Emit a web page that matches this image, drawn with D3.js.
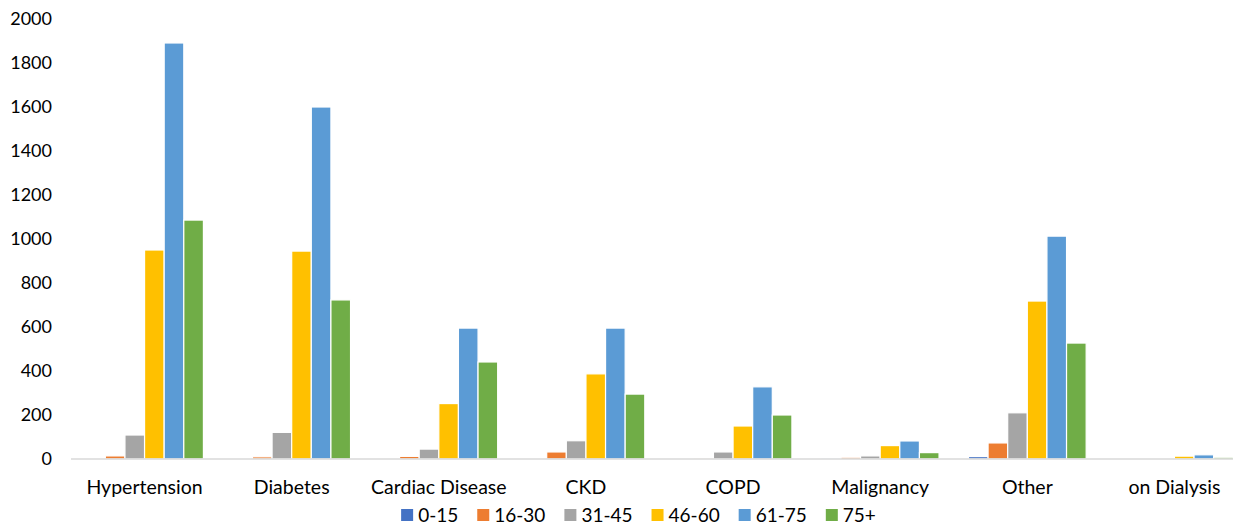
<!DOCTYPE html>
<html>
<head>
<meta charset="utf-8">
<script src="https://cdn.jsdelivr.net/npm/d3@7"></script>
<style>
  body { margin: 0; background: #fff; }
  text { font-family: Lato, "Open Sans", sans-serif; fill: #000; }
</style>
</head>
<body>
<div id="vis"></div>
<script>
const categories = ["Hypertension", "Diabetes", "Cardiac Disease", "CKD", "COPD", "Malignancy", "Other", "on Dialysis"];
const groups = ["0-15", "16-30", "31-45", "46-60", "61-75", "75+"];
const colors = ["#4472C4", "#ED7D31", "#A5A5A5", "#FFC000", "#5B9BD5", "#70AD47"];
const yTicks = [0, 200, 400, 600, 800, 1000, 1200, 1400, 1600, 1800, 2000];

// values per age group, in category order
const v0_15  = [0, 0, 2, 0, 0, 1, 11, 0];
const v16_30 = [14, 10, 12, 32, 1, 8, 73, 0];
const v31_45 = [109, 121, 45, 83, 32, 14, 210, 0];
const v46_60 = [950, 945, 252, 387, 150, 61, 718, 13];
const v61_75 = [1891, 1600, 595, 595, 328, 82, 1013, 19];
const v75p   = [1086, 723, 441, 295, 200, 29, 527, 8];
const series = [v0_15, v16_30, v31_45, v46_60, v61_75, v75p];

const ctx = { w: 1233, h: 525, left: 71, right: 1248, top: 19, bottom: 459 };

const svg = d3.select("#vis").append("svg")
    .attr("width", ctx.w).attr("height", ctx.h);

const x = d3.scaleBand().domain(categories)
    .range([ctx.left, ctx.right]).paddingInner(0.2).paddingOuter(0.1);
const xs = d3.scaleBand().domain(groups).range([0, x.bandwidth()]).padding(0);
const y = d3.scaleLinear().domain([0, 2000]).range([ctx.bottom, ctx.top]);

// y tick labels
svg.append("g").selectAll("text")
    .data(yTicks).enter().append("text")
    .attr("x", 52).attr("y", d => y(d))
    .attr("dy", "0.35em")
    .attr("text-anchor", "end")
    .style("font-size", "18px")
    .text(d => d);

// bars
const data = [];
categories.forEach((c, i) => groups.forEach((g, j) => data.push({ c: c, g: g, v: series[j][i], col: colors[j] })));
svg.append("g").selectAll("rect")
    .data(data).enter().append("rect")
    .attr("x", d => x(d.c) + xs(d.g))
    .attr("width", xs.bandwidth())
    .attr("y", d => y(d.v))
    .attr("height", d => y(0) - y(d.v))
    .style("fill", d => d.col)
    .style("stroke", "#fff")
    .style("stroke-width", 1.2);

// baseline
svg.append("line")
    .attr("x1", ctx.left).attr("x2", ctx.w)
    .attr("y1", y(0)).attr("y2", y(0))
    .style("stroke", "#d9d9d9").style("stroke-width", 1.5);

// category labels
svg.append("g").selectAll("text")
    .data(categories).enter().append("text")
    .attr("x", d => x(d) + x.bandwidth() / 2)
    .attr("y", 494)
    .attr("text-anchor", "middle")
    .style("font-size", "19.5px")
    .text(d => d);

// legend: lay out by measured text widths, centred
const legend = svg.append("g");
const li = legend.selectAll("g").data(groups).enter().append("g");
li.append("rect").attr("x", 0).attr("y", -6).attr("width", 12).attr("height", 12)
    .style("fill", (d, i) => colors[i]);
li.append("text").attr("x", 17).attr("dy", "0.35em")
    .style("font-size", "19px").text(d => d);
let lx = 0;
li.each(function () {
    const tw = d3.select(this).select("text").node().getComputedTextLength();
    d3.select(this).attr("transform", `translate(${lx},0)`);
    lx += 17 + tw + 19;
});
const totalW = lx - 19;
legend.attr("transform", `translate(${638.5 - totalW / 2},515)`);
</script>
</body>
</html>
